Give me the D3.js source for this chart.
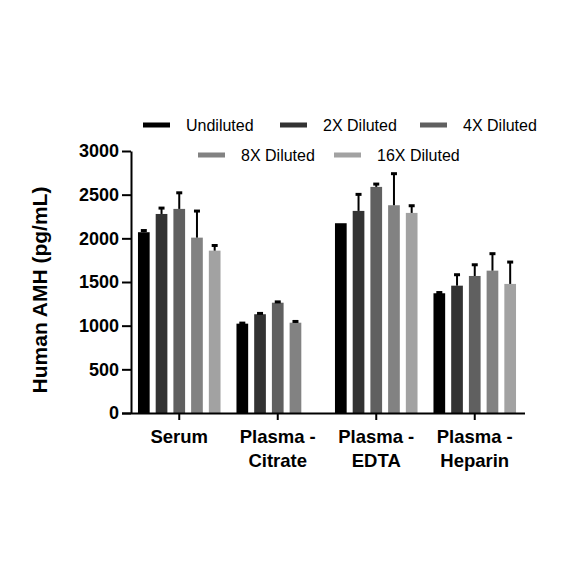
<!DOCTYPE html>
<html>
<head>
<meta charset="utf-8">
<script src="https://cdn.jsdelivr.net/npm/d3@7"></script>
<style>
  body { margin: 0; background: #fff; }
  text { font-family: "Liberation Sans", Arial, sans-serif; }
</style>
</head>
<body>
<div id="chart"></div>
<script>
// Datos
var categories = ["Serum", "Plasma - Citrate", "Plasma - EDTA", "Plasma - Heparin"];
var catLines = [["Serum"], ["Plasma -", "Citrate"], ["Plasma -", "EDTA"], ["Plasma -", "Heparin"]];
var series = ["Undiluted", "2X Diluted", "4X Diluted", "8X Diluted", "16X Diluted"];
var colores = ["#000000", "#333333", "#606060", "#828282", "#a2a2a2"];

var undiluted = [2070, 1023, 2173, 1371];
var x2 = [2279, 1131, 2314, 1458];
var x4 = [2337, 1263, 2589, 1569];
var x8 = [2008, 1034, 2379, 1630];
var x16 = [1859, null, 2291, 1478];

var errUndiluted = [25, 12, 0, 14];
var errX2 = [73, 15, 195, 131];
var errX4 = [190, 15, 38, 134];
var errX8 = [310, 20, 367, 200];
var errX16 = [65, null, 88, 256];

var yTicks = [0, 500, 1000, 1500, 2000, 2500, 3000];

var valores = [undiluted, x2, x4, x8, x16];
var errores = [errUndiluted, errX2, errX4, errX8, errX16];

var width = 584, height = 584;
var svg = d3.select("#chart").append("svg")
  .attr("width", width).attr("height", height);

// Escalas
var x0 = d3.scaleBand().domain(categories).range([130, 524]).padding(0);
var x1 = d3.scaleBand().domain(series).range([0, x0.bandwidth()])
  .paddingInner(0.34).paddingOuter(0.45);
var y = d3.scaleLinear().domain([0, 3000]).range([413, 151]);

// Barras
var datos = [];
categories.forEach(function(c, i) {
  series.forEach(function(s, j) {
    if (valores[j][i] != null) {
      datos.push({cat: c, serie: s, idx: j, value: valores[j][i], err: errores[j][i]});
    }
  });
});

var bars = svg.append("g");
bars.selectAll("rect")
  .data(datos)
  .enter().append("rect")
  .attr("x", function(d) { return x0(d.cat) + x1(d.serie); })
  .attr("y", function(d) { return y(d.value); })
  .attr("width", x1.bandwidth())
  .attr("height", function(d) { return y(0) - y(d.value); })
  .attr("fill", function(d) { return colores[d.idx]; });

// Barras de error (solo hacia arriba)
var errs = svg.append("g").attr("stroke", "#000");
datos.filter(function(d) { return d.err > 0; }).forEach(function(d) {
  var cx = x0(d.cat) + x1(d.serie) + x1.bandwidth() / 2;
  errs.append("line")
    .attr("x1", cx).attr("x2", cx)
    .attr("y1", y(d.value)).attr("y2", y(d.value + d.err))
    .attr("stroke-width", 2);
  errs.append("line")
    .attr("x1", cx - 3).attr("x2", cx + 3)
    .attr("y1", y(d.value + d.err) + 0.5).attr("y2", y(d.value + d.err) + 0.5)
    .attr("stroke-width", 3);
});

// Ejes
var yAxis = svg.append("g")
  .attr("transform", "translate(131,0)")
  .call(d3.axisLeft(y).tickValues(yTicks).tickFormat(d3.format("d"))
    .tickSize(9).tickPadding(3).tickSizeOuter(0));
yAxis.select(".domain").attr("stroke-width", 2);
yAxis.selectAll(".tick line").attr("stroke-width", 2);
yAxis.selectAll(".tick text")
  .attr("font-family", "Liberation Sans, Arial, sans-serif")
  .attr("font-weight", "bold").attr("font-size", 18).attr("fill", "#000");

var xAxis = svg.append("g")
  .attr("transform", "translate(0,413)")
  .call(d3.axisBottom(x0).tickSize(7).tickSizeOuter(0).tickFormat(""));
xAxis.select(".domain").attr("stroke-width", 2).attr("d", "M122,0.5H525");
xAxis.selectAll(".tick line").attr("stroke-width", 2);

// Etiquetas de categorias
var xl = svg.append("g");
categories.forEach(function(c, i) {
  var t = xl.append("text")
    .attr("x", x0(c) + x0.bandwidth() / 2)
    .attr("y", 443)
    .attr("text-anchor", "middle")
    .attr("font-weight", "bold").attr("font-size", 18.5);
  catLines[i].forEach(function(l, k) {
    t.append("tspan").attr("x", x0(c) + x0.bandwidth() / 2).attr("dy", k == 0 ? 0 : 24).text(l);
  });
});

// Titulo eje y
svg.append("text")
  .attr("transform", "translate(47,290) rotate(-90)")
  .attr("text-anchor", "middle")
  .attr("font-weight", "bold").attr("font-size", 21)
  .text("Human AMH (pg/mL)");

// Leyenda
var legPos = [[143, 125], [280, 125], [420, 125], [198, 155], [334, 155]];
var leg = svg.append("g");
series.forEach(function(s, j) {
  leg.append("rect")
    .attr("x", legPos[j][0]).attr("y", legPos[j][1] - 2.5)
    .attr("width", 27).attr("height", 5)
    .attr("fill", colores[j]);
  leg.append("text")
    .attr("x", legPos[j][0] + 43).attr("y", legPos[j][1] + 5.5)
    .attr("font-size", 16)
    .text(s);
});
</script>
</body>
</html>
